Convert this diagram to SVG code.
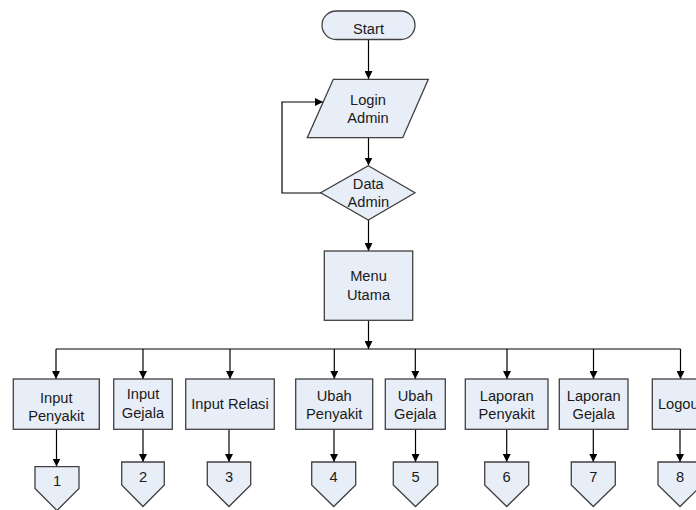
<svg xmlns="http://www.w3.org/2000/svg" width="696" height="510" viewBox="0 0 696 510">
<defs>
<marker id="arr" viewBox="0 0 10 10" refX="10" refY="5" markerWidth="8" markerHeight="8" markerUnits="userSpaceOnUse" orient="auto">
<path d="M0,0 L10,5 L0,10 Z" fill="#000"/>
</marker>
</defs>
<style>
.s{fill:#e8eef7;stroke:#404040;stroke-width:1.3}
.t{font-family:"Liberation Sans",Arial,sans-serif;font-size:14.67px;fill:#1a1a1a;text-anchor:middle}
.c{fill:none;stroke:#000;stroke-width:1.2}
</style>
<rect width="696" height="510" fill="#fff"/>
<g id="connectors">
<path class="c" d="M368.5,39.5 V79" marker-end="url(#arr)"/>
<path class="c" d="M368.5,138 V165.5" marker-end="url(#arr)"/>
<path class="c" d="M321,193 H282 V102 H323" marker-end="url(#arr)"/>
<path class="c" d="M368.5,220 V251" marker-end="url(#arr)"/>
<path class="c" d="M368.5,320.5 V349" marker-end="url(#arr)"/>
<path class="c" d="M56,349 H680.5"/>
<path class="c" d="M56,349 V379" marker-end="url(#arr)"/>
<path class="c" d="M143,349 V379" marker-end="url(#arr)"/>
<path class="c" d="M230,349 V379" marker-end="url(#arr)"/>
<path class="c" d="M334.3,349 V379" marker-end="url(#arr)"/>
<path class="c" d="M415.3,349 V379" marker-end="url(#arr)"/>
<path class="c" d="M507,349 V379" marker-end="url(#arr)"/>
<path class="c" d="M593.5,349 V379" marker-end="url(#arr)"/>
<path class="c" d="M680.5,349 V379" marker-end="url(#arr)"/>
<path class="c" d="M56.5,429.5 V466.5" marker-end="url(#arr)"/>
<path class="c" d="M143,429.5 V462" marker-end="url(#arr)"/>
<path class="c" d="M229,429.5 V462" marker-end="url(#arr)"/>
<path class="c" d="M334,429.5 V462" marker-end="url(#arr)"/>
<path class="c" d="M415.5,429.5 V462" marker-end="url(#arr)"/>
<path class="c" d="M506.7,429.5 V462" marker-end="url(#arr)"/>
<path class="c" d="M593.3,429.5 V462" marker-end="url(#arr)"/>
<path class="c" d="M680,429.5 V462" marker-end="url(#arr)"/>
</g>
<g id="start">
<rect class="s" x="322" y="11" width="93" height="28.5" rx="14.2"/>
<text class="t" x="368.5" y="33.5">Start</text>
</g>
<g id="login">
<polygon class="s" points="333.3,79.3 428.3,79.3 402.7,137.7 307.3,137.7"/>
<text class="t" x="368" y="105">Login</text>
<text class="t" x="368" y="123">Admin</text>
</g>
<g id="data-admin">
<polygon class="s" points="368.3,165.7 415,192.7 368.3,220 320.7,192.7"/>
<text class="t" x="368.3" y="189">Data</text>
<text class="t" x="368.3" y="207">Admin</text>
</g>
<g id="menu">
<rect class="s" x="324.3" y="251" width="88.4" height="69.3"/>
<text class="t" x="368.5" y="281">Menu</text>
<text class="t" x="368.5" y="300">Utama</text>
</g>
<g id="input-penyakit">
<rect class="s" x="13.3" y="379" width="86" height="50.3"/>
<text class="t" x="56.3" y="402.5">Input</text>
<text class="t" x="56.3" y="420.5">Penyakit</text>
</g>
<g id="input-gejala">
<rect class="s" x="113.7" y="379" width="58.6" height="50.3"/>
<text class="t" x="143" y="399">Input</text>
<text class="t" x="143" y="418">Gejala</text>
</g>
<g id="input-relasi">
<rect class="s" x="185.7" y="379" width="88.6" height="50.3"/>
<text class="t" x="230" y="409.3">Input Relasi</text>
</g>
<g id="ubah-penyakit">
<rect class="s" x="295.7" y="379" width="77" height="50.3"/>
<text class="t" x="334.2" y="400.5">Ubah</text>
<text class="t" x="334.2" y="418.5">Penyakit</text>
</g>
<g id="ubah-gejala">
<rect class="s" x="385.3" y="379" width="60" height="50.3"/>
<text class="t" x="415.3" y="400.5">Ubah</text>
<text class="t" x="415.3" y="418.5">Gejala</text>
</g>
<g id="laporan-penyakit">
<rect class="s" x="465.3" y="379" width="82.7" height="50.3"/>
<text class="t" x="506.7" y="400.5">Laporan</text>
<text class="t" x="506.7" y="418.5">Penyakit</text>
</g>
<g id="laporan-gejala">
<rect class="s" x="559.3" y="379" width="68.7" height="50.3"/>
<text class="t" x="593.7" y="400.5">Laporan</text>
<text class="t" x="593.7" y="418.5">Gejala</text>
</g>
<g id="logout">
<rect class="s" x="652.3" y="379" width="56" height="50.3"/>
<text class="t" x="680.3" y="409.3">Logout</text>
</g>
<g id="ref-1">
<polygon class="s" points="35,466.7 79,466.7 79,488.5 57,510.5 35,488.5"/>
<text class="t" x="57" y="486">1</text>
</g>
<g id="ref-2">
<polygon class="s" points="121.7,462 164.3,462 164.3,485 143,506.5 121.7,485"/>
<text class="t" x="143" y="482">2</text>
</g>
<g id="ref-3">
<polygon class="s" points="207.3,462 250.7,462 250.7,485 229,506.5 207.3,485"/>
<text class="t" x="229" y="482">3</text>
</g>
<g id="ref-4">
<polygon class="s" points="311.7,462 355.7,462 355.7,485 333.7,506.5 311.7,485"/>
<text class="t" x="333.7" y="482">4</text>
</g>
<g id="ref-5">
<polygon class="s" points="393.3,462 437.7,462 437.7,485 415.5,506.5 393.3,485"/>
<text class="t" x="415.5" y="482">5</text>
</g>
<g id="ref-6">
<polygon class="s" points="484.7,462 528.7,462 528.7,485 506.7,506.5 484.7,485"/>
<text class="t" x="506.7" y="482">6</text>
</g>
<g id="ref-7">
<polygon class="s" points="571.3,462 615.3,462 615.3,485 593.3,506.5 571.3,485"/>
<text class="t" x="593.3" y="482">7</text>
</g>
<g id="ref-8">
<polygon class="s" points="658,462 702,462 702,485 680,506.5 658,485"/>
<text class="t" x="680" y="482">8</text>
</g>
</svg>
